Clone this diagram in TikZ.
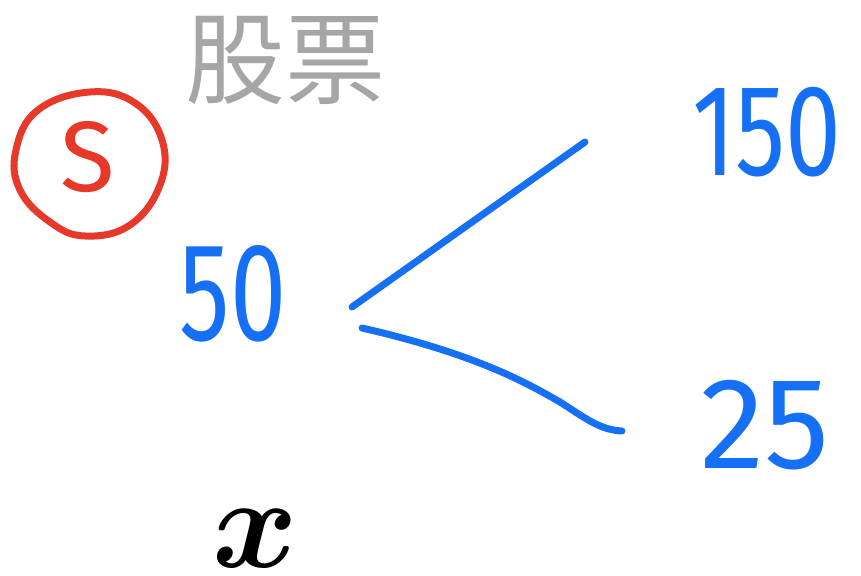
\documentclass[tikz,border=0pt]{standalone}
\usepackage{bm}
\usepackage{fontspec}
\newfontfamily\cjk{Noto Sans CJK SC}
\newfontfamily\hand{Fira Sans}
\definecolor{penblue}{RGB}{22,112,245}
\definecolor{penred}{RGB}{230,57,42}
\definecolor{titlegray}{RGB}{166,166,166}
\tikzset{
  stroke/.style={line width=7pt, line cap=round, line join=round},
  numtxt/.style={text=penblue, inner sep=0pt, font=\hand\fontsize{130}{130}\selectfont},
  vartxt/.style={inner sep=0pt, scale=13, transform shape}
}
\begin{document}
\begin{tikzpicture}[x=1pt,y=-1pt]
\useasboundingbox (0,0) rectangle (861,575);
\node (title) [anchor=base west, inner sep=0pt, text=titlegray, font=\cjk\fontsize{100}{100}\selectfont] at (185,96) {股票};
\node (S) [inner sep=0pt, text=penred, font=\hand\fontsize{100}{100}\selectfont] at (88,157) {S};
\draw[stroke, penred] plot[smooth cycle, tension=0.7] coordinates {
  (90,92) (135,103) (162,140) (160,185) (130,225) (85,236) (50,222) (20,190) (16,150) (38,110)};
\node (n50) [numtxt, font=\hand\fontsize{140}{140}\selectfont, xscale=0.72, transform shape] at (233,294) {50};
\node (n150) [numtxt, xscale=0.77, transform shape] at (767,132) {150};
\node (n25) [numtxt] at (765,425) {25};
\node (xv) [vartxt] at (255,539) {$\bm{x}$};
\coordinate (a1) at (352,307);
\coordinate (b1) at (585,142);
\coordinate (a2) at (362,328);
\coordinate (m2) at (560,402);
\coordinate (b2) at (622,431);
\draw[stroke, penblue] (a1) -- (b1);
\draw[stroke, penblue] (a2) .. controls (480,355) and (530,385) .. (m2) .. controls (585,418) and (600,430) .. (b2);
\end{tikzpicture}
\end{document}
